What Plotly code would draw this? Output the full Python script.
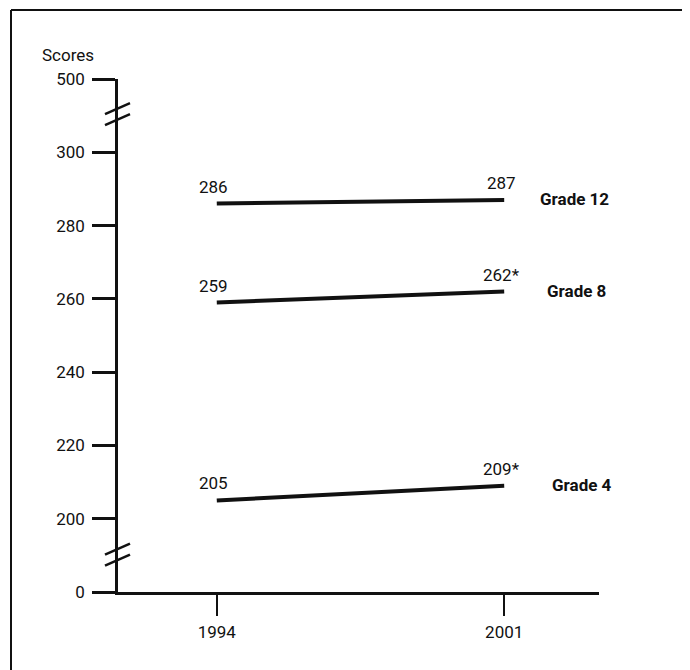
import plotly.graph_objects as go

# data
years = [1994, 2001]
grades = ["Grade 12", "Grade 8", "Grade 4"]
scores = {
    "Grade 12": [286, 287],
    "Grade 8": [259, 262],
    "Grade 4": [205, 209],
}
# significance marker on the 2001 value
signif = {
    "Grade 12": ["", ""],
    "Grade 8": ["", "*"],
    "Grade 4": ["", "*"],
}

# broken y axis: 0 and 500 are drawn just outside the 200-300 band
ytick_vals = [180, 200, 220, 240, 260, 280, 300, 320]
ytick_text = ["0", "200", "220", "240", "260", "280", "300", "500"]
y_lo, y_hi = 180, 320
breaks = [190.2, 310.4]

x_lo, x_hi = 1991.594, 2003.309

FONT = "Roboto"
INK = "#111111"

# the page has an 8px body margin, so the figure is 8px smaller each way
W, H = 682, 662
L, R, T, B = 110, 91, 71, 78

fig = go.Figure()

for g in grades:
    fig.add_trace(go.Scatter(
        x=years, y=scores[g], mode="lines",
        line=dict(color=INK, width=4),
        showlegend=False, hoverinfo="skip",
    ))

# value labels + series names
name_x = {"Grade 12": 34, "Grade 8": 41, "Grade 4": 46}
for g in grades:
    v = scores[g]
    fig.add_annotation(x=years[0], y=v[0], text=f"{v[0]}{signif[g][0]}",
                       showarrow=False, xanchor="center", yanchor="bottom",
                       xshift=-3, yshift=5, font=dict(size=17, color=INK))
    fig.add_annotation(x=years[1], y=v[1], text=f"{v[1]}{signif[g][1]}",
                       showarrow=False, xanchor="center", yanchor="bottom",
                       xshift=-3, yshift=5, font=dict(size=17, color=INK))
    fig.add_annotation(x=years[1], y=v[1], text=f"<b>{g}</b>",
                       showarrow=False, xanchor="left", yanchor="middle",
                       xshift=name_x[g], yshift=1,
                       font=dict(size=17, color=INK))

fig.add_annotation(x=-(L - 60) / (W - L - R), y=1.0, xref="paper", yref="paper",
                   text="Scores", showarrow=False, xanchor="center",
                   yanchor="bottom", yshift=12, font=dict(size=17, color=INK))

# axis break marks (two short slanted strokes across the y axis)
pw = W - L - R
ph = H - T - B
def py(v):
    return (v - y_lo) / (y_hi - y_lo)
for b in breaks:
    for off in (-5.5, 5.5):
        yc = py(b) + off / ph
        fig.add_shape(type="line", xref="paper", yref="paper",
                      x0=-13 / pw, x1=12 / pw,
                      y0=yc - 5.5 / ph, y1=yc + 5.5 / ph,
                      line=dict(color=INK, width=2.5))

# scanned page frame (top and left edges)
top = (ph + T - 2) / ph
left = -(L - 3) / pw
fig.add_shape(type="line", xref="paper", yref="paper",
              x0=left, x1=(W - L) / pw, y0=top, y1=top,
              line=dict(color=INK, width=2))
fig.add_shape(type="line", xref="paper", yref="paper",
              x0=left, x1=left, y0=-B / ph, y1=top,
              line=dict(color=INK, width=2))

fig.update_xaxes(
    range=[x_lo, x_hi], tickvals=years, ticktext=[str(y) for y in years],
    showline=True, linecolor=INK, linewidth=2.5,
    ticks="outside", ticklen=21, tickwidth=2, tickcolor=INK,
    ticklabelstandoff=2,
    showgrid=False, zeroline=False,
    tickfont=dict(size=17, color=INK),
)
fig.update_yaxes(
    range=[y_lo, y_hi], tickvals=ytick_vals, ticktext=ytick_text,
    showline=True, linecolor=INK, linewidth=2.5,
    ticks="outside", ticklen=23, tickwidth=2.5, tickcolor=INK,
    ticklabelstandoff=4,
    showgrid=False, zeroline=False,
    tickfont=dict(size=17, color=INK),
)

fig.update_layout(
    width=W, height=H, autosize=False,
    margin=dict(l=L, r=R, t=T, b=B),
    plot_bgcolor="white", paper_bgcolor="white",
    font=dict(family=FONT, color=INK),
    showlegend=False,
)

fig.write_html("out.html")
